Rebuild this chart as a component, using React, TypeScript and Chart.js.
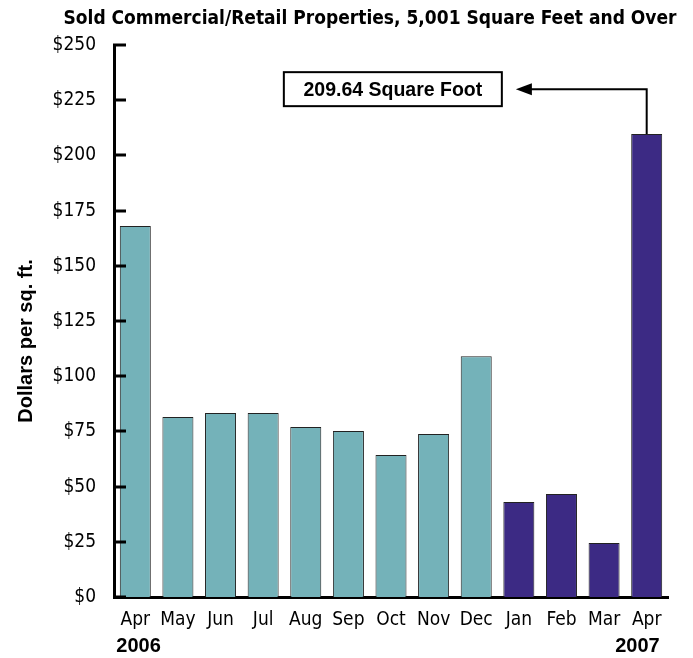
import React, { useEffect, useRef } from "react";
import { Chart, registerables } from "chart.js";

Chart.register(...registerables);

const months = ["Apr", "May", "Jun", "Jul", "Aug", "Sep", "Oct", "Nov", "Dec", "Jan", "Feb", "Mar", "Apr"];
const values = [168, 81.5, 83.3, 83.3, 77, 75.2, 64.3, 73.8, 109, 43, 46.6, 24.5, 209.64];
const yearLabels = ["2006", "2007"];
const tickValues = [0, 25, 50, 75, 100, 125, 150, 175, 200, 225, 250];
const titleText = "Sold Commercial/Retail Properties, 5,001 Square Feet and Over";
const yTitle = "Dollars per sq. ft.";
const annotationText = "209.64 Square Foot";

const TEAL = "#74b2b9";
const PURPLE = "#3c2a84";
const NARROW = "'Liberation Sans Narrow', 'DejaVu Sans Condensed', 'Arial Narrow', sans-serif";
const WIDE = "'Liberation Sans', Arial, sans-serif";

const decor = {
  id: "decor",
  afterDraw(chart: any) {
    const ctx = chart.ctx;
    const x = chart.scales.x;
    const y = chart.scales.y;
    const area = chart.chartArea;
    ctx.save();
    // title
    ctx.fillStyle = "#000";
    ctx.font = `bold 19px ${NARROW}`;
    ctx.textAlign = "center";
    ctx.textBaseline = "middle";
    ctx.fillText(titleText, 370, 19);
    // y title
    ctx.save();
    ctx.translate(26, 341);
    ctx.rotate(-Math.PI / 2);
    ctx.font = `bold 20px ${WIDE}`;
    ctx.fillText(yTitle, 0, 0);
    ctx.restore();
    // ticks inward
    ctx.strokeStyle = "#000";
    ctx.lineWidth = 3;
    for (const v of tickValues) {
      const py = Math.round(y.getPixelForValue(v));
      ctx.beginPath();
      ctx.moveTo(area.left - 1, py);
      ctx.lineTo(area.left + 12, py);
      ctx.stroke();
    }
    // year labels
    ctx.font = `bold 20px ${WIDE}`;
    ctx.textBaseline = "middle";
    ctx.textAlign = "left";
    ctx.fillText(yearLabels[0], x.getPixelForValue(0) - 19, 646);
    ctx.textAlign = "right";
    ctx.fillText(yearLabels[1], x.getPixelForValue(values.length - 1) + 13, 646);
    // annotation
    const last = values.length - 1;
    const bx = x.getPixelForValue(last);
    const by = y.getPixelForValue(values[last]);
    const ay = y.getPixelForValue(230);
    const tipX = x.getPixelForValue(9) - 3;
    ctx.lineWidth = 2;
    ctx.beginPath();
    ctx.moveTo(bx, by);
    ctx.lineTo(bx, ay);
    ctx.lineTo(tipX + 14, ay);
    ctx.stroke();
    ctx.beginPath();
    ctx.moveTo(tipX, ay);
    ctx.lineTo(tipX + 16, ay - 6);
    ctx.lineTo(tipX + 16, ay + 6);
    ctx.closePath();
    ctx.fill();
    const boxR = tipX - 14;
    const boxL = boxR - 218;
    ctx.lineWidth = 2;
    ctx.strokeRect(boxL, ay - 17, boxR - boxL, 34);
    ctx.font = `bold 19.5px ${WIDE}`;
    ctx.textAlign = "center";
    ctx.fillText(annotationText, (boxL + boxR) / 2, ay + 1);
    ctx.restore();
  },
};

export default function App() {
  const ref = useRef<HTMLCanvasElement>(null);
  useEffect(() => {
    document.body.style.margin = "0";
    const chart = new Chart(ref.current!, {
      type: "bar",
      data: {
        labels: months,
        datasets: [
          {
            data: values,
            backgroundColor: values.map((_, i) => (i < 9 ? TEAL : PURPLE)),
            borderColor: "#222",
            borderWidth: 1,
            barPercentage: 0.75,
            categoryPercentage: 0.97,
          },
        ],
      },
      options: {
        responsive: false,
        animation: false,
        layout: { padding: { top: 45, right: 25, left: 0, bottom: 0 } },
        plugins: { legend: { display: false }, tooltip: { enabled: false }, title: { display: false } },
        scales: {
          x: {
            grid: { display: false },
            border: { display: true, color: "#000", width: 3 },
            ticks: { color: "#000", font: { size: 19, family: NARROW }, padding: 4, maxRotation: 0, autoSkip: false },
            afterFit: (s: any) => { s.height = 61; },
          },
          y: {
            min: 0,
            max: 250,
            grid: { display: false },
            border: { display: true, color: "#000", width: 3 },
            ticks: {
              stepSize: 25,
              color: "#000",
              padding: 10,
              font: { size: 19, family: NARROW },
              callback: (v: any) => "$" + v,
            },
            afterFit: (s: any) => { s.width = 114; },
          },
        },
      },
      plugins: [decor],
    });
    return () => chart.destroy();
  }, []);
  return (
    <div style={{ width: 693, height: 658 }}>
      <canvas ref={ref} width={693} height={658} style={{ display: "block" }} />
    </div>
  );
}
